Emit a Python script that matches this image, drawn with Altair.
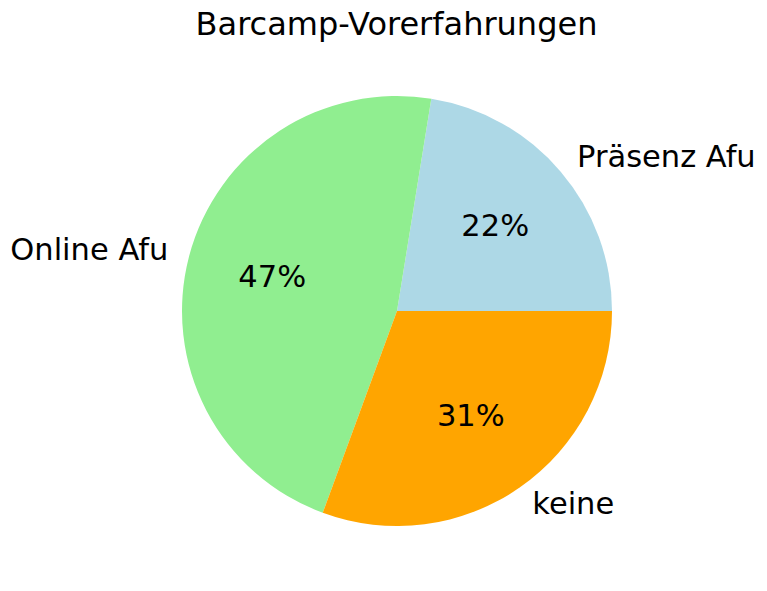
import math
import altair as alt
import pandas as pd

categories = ["Präsenz Afu", "Online Afu", "keine"]
counts = [11, 23, 15]
colors = ["#ADD8E6", "#90EE90", "#FFA500"]

df = pd.DataFrame({"category": categories, "count": counts, "idx": list(range(len(categories)))})

R = 215
CX, CY = 389, 303
FS = 30.5
TFS = 32

theta_scale = alt.Scale(range=[math.pi / 2, math.pi / 2 - 2 * math.pi])

base = alt.Chart(df).transform_joinaggregate(
    total="sum(count)"
).transform_window(
    cum="sum(count)", sort=[alt.SortField("idx")], frame=[None, 0]
).transform_calculate(
    mid="(datum.cum - datum.count / 2) / datum.total",
    pct="format(datum.count / datum.total, '.0%')",
).transform_calculate(
    labelL="cos(2 * PI * datum.mid) >= 0 ? datum.category : ''",
    labelR="cos(2 * PI * datum.mid) < 0 ? datum.category : ''",
)

theta = alt.Theta("count:Q", stack=True, scale=theta_scale)
order = alt.Order("idx:Q", sort="ascending")

arcs = base.mark_arc(outerRadius=R, stroke=None).encode(
    theta=theta,
    order=order,
    color=alt.Color("category:N", scale=alt.Scale(domain=categories, range=colors), legend=None),
    x=alt.value(CX),
    y=alt.value(CY),
)

text_common = dict(font="DejaVu Sans", fontSize=FS, color="black", baseline="middle")

pct_text = base.mark_text(radius=0.6 * R, align="center", **text_common).encode(
    theta=theta, order=order, text="pct:N", x=alt.value(CX), y=alt.value(CY)
)
lab_left = base.mark_text(radius=1.1 * R, align="left", **text_common).encode(
    theta=theta, order=order, text="labelL:N", x=alt.value(CX), y=alt.value(CY)
)
lab_right = base.mark_text(radius=1.1 * R, align="right", **text_common).encode(
    theta=theta, order=order, text="labelR:N", x=alt.value(CX), y=alt.value(CY)
)

chart = alt.layer(arcs, pct_text, lab_left, lab_right).properties(
    width=751,
    height=575,
    padding={"left": 0, "top": 0, "right": 0, "bottom": 0},
    autosize=alt.AutoSizeParams(type="none"),
    title=alt.Title("Barcamp-Vorerfahrungen", font="DejaVu Sans", fontSize=TFS,
                    fontWeight="normal", color="black", anchor="middle", offset=-34, dx=13),
).configure_view(stroke=None)

chart.save("out.html", embed_options={"renderer": "svg", "actions": False})
